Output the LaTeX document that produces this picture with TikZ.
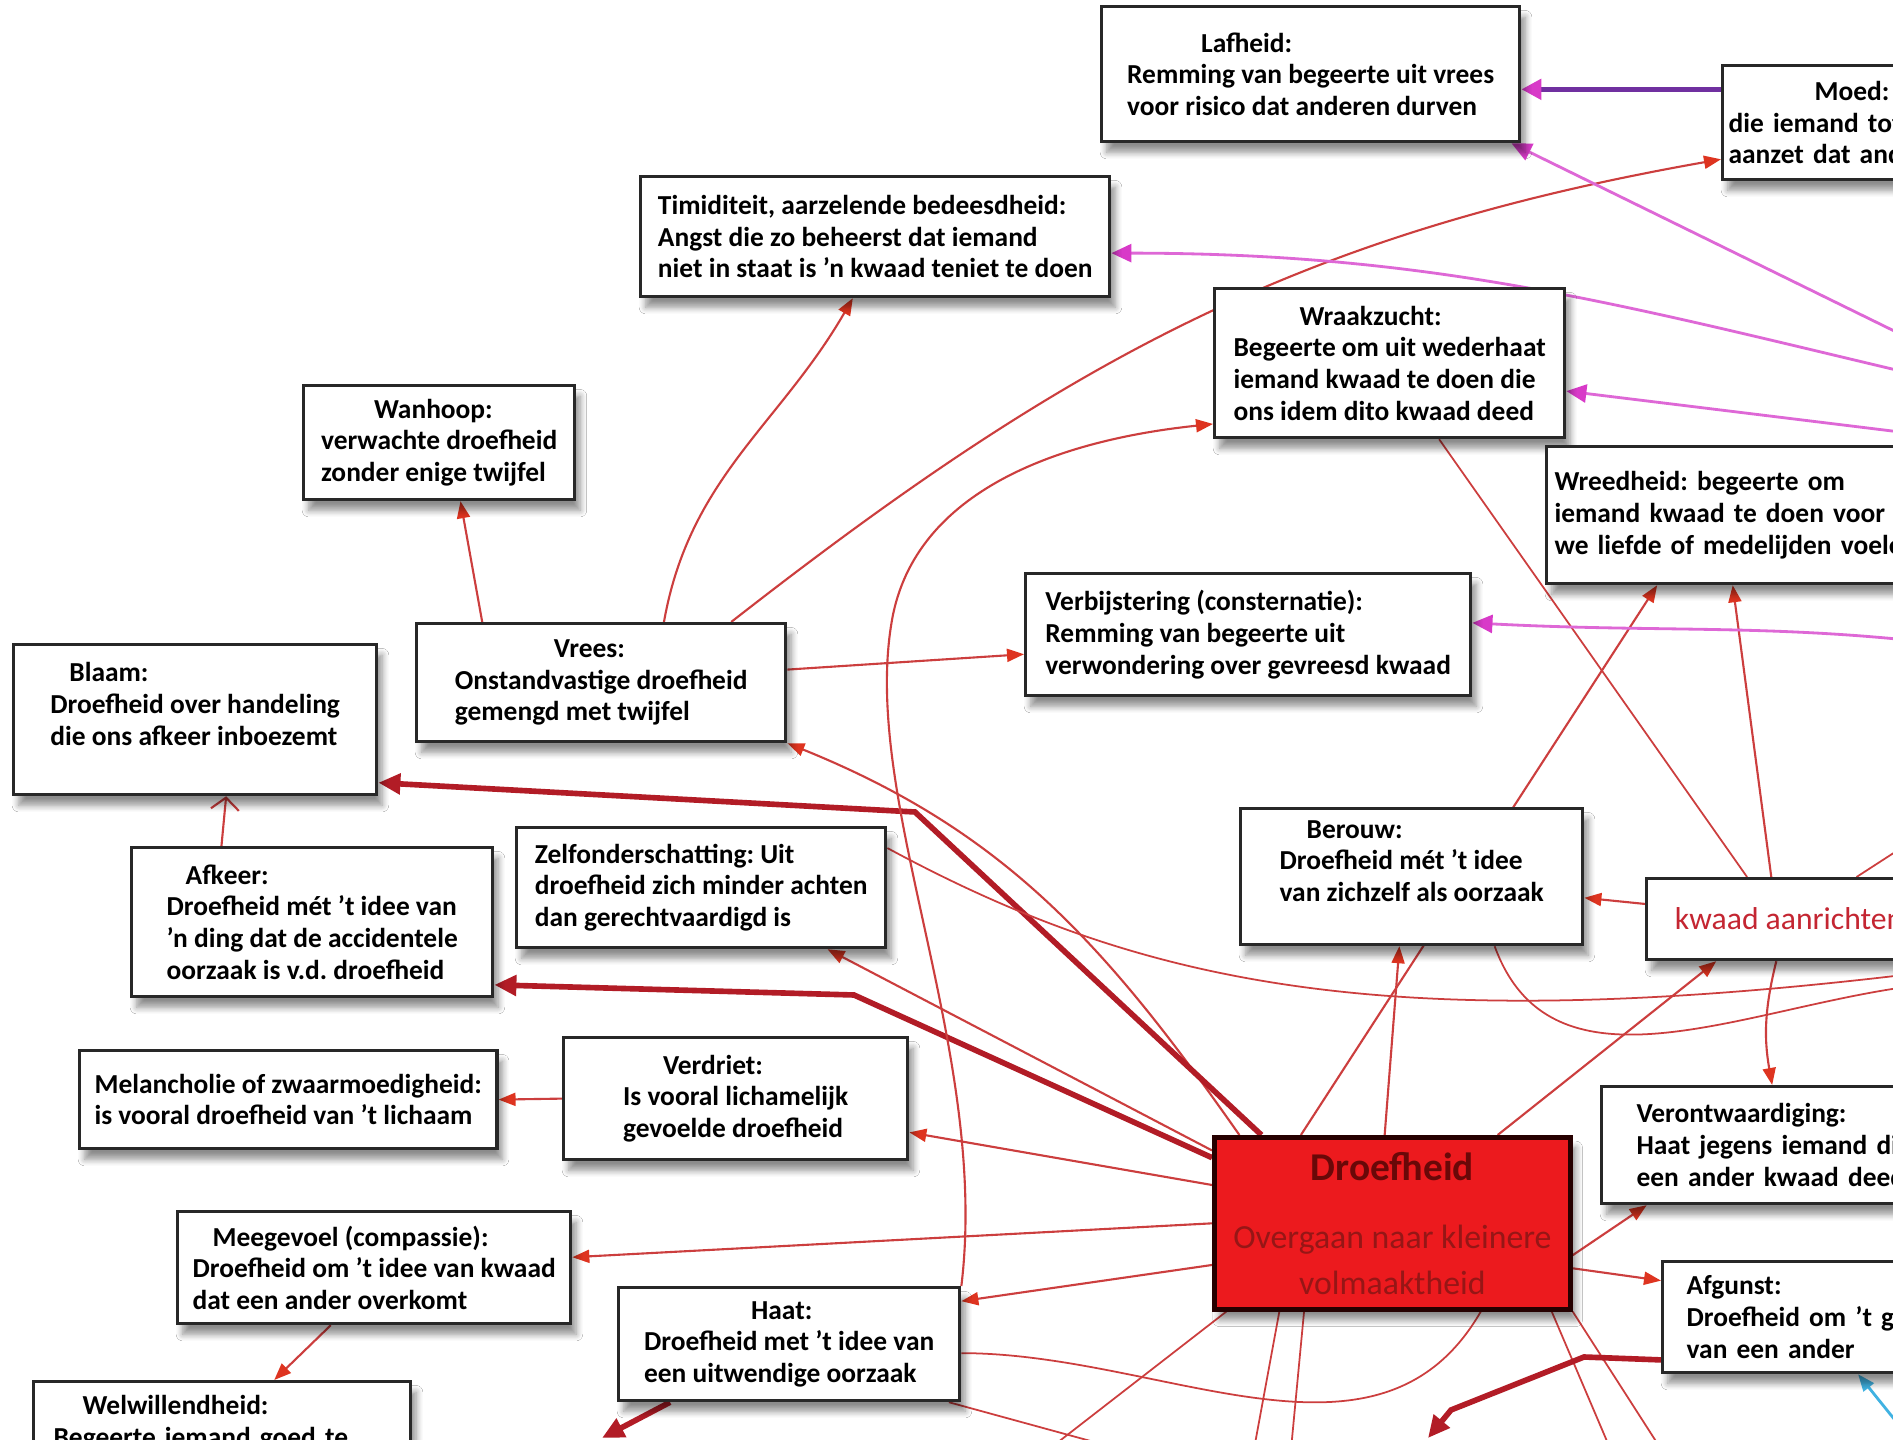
\documentclass[tikz,border=0pt]{standalone}
\usepackage{fontspec}
\setmainfont{Carlito}
\usetikzlibrary{arrows.meta,shadows.blur,backgrounds}
\definecolor{linkred}{RGB}{204,62,62}
\definecolor{tipred}{RGB}{222,52,32}
\definecolor{thickred}{RGB}{178,28,38}
\definecolor{droefred}{RGB}{236,26,30}
\definecolor{droefdark}{RGB}{105,8,8}
\definecolor{droefsub}{RGB}{150,22,22}
\definecolor{kwaadred}{RGB}{196,38,50}
\definecolor{magline}{RGB}{222,104,214}
\definecolor{magtip}{RGB}{216,58,200}
\definecolor{purpleline}{RGB}{112,48,160}
\definecolor{cyanline}{RGB}{64,178,226}
\definecolor{boxline}{RGB}{40,40,40}
\frenchspacing

\begin{document}
\begin{tikzpicture}[x=0.01cm, y=-0.01cm]
    \tikzstyle{emo} = [rectangle, draw=boxline, line width=0.9pt, fill=white, anchor=north west, align=left, font=\fontsize{7.8}{9}\selectfont\bfseries, inner xsep=0.15cm, inner ysep=0.05cm, blur shadow={shadow xshift=1.5pt, shadow yshift=-3pt, shadow blur steps=6, shadow opacity=45}]
    \tikzstyle{link} = [linkred, line width=0.6pt, -{Triangle[length=0.17cm, width=0.13cm, color=tipred]}]
    \tikzstyle{plain} = [linkred, line width=0.5pt]
    \tikzstyle{heavy} = [thickred, line width=1.6pt, -{Triangle[length=0.22cm, width=0.2cm]}]
    \tikzstyle{mag} = [magline, line width=0.8pt, -{Triangle[length=0.2cm, width=0.18cm, color=magtip]}]

    \useasboundingbox (0,0) rectangle (1893,1440);

    % Top row
    \node [emo, minimum width=4.18cm, minimum height=1.35cm] (lafheid) at (1100,5) {\hspace*{0.74cm}Lafheid:\\Remming van begeerte uit vrees\\voor risico dat anderen durven};
    \node [emo, text width=3.62cm, inner xsep=0.06cm, minimum height=1.14cm] (moed) at (1721,64) {\hspace*{0.86cm}Moed:\\die iemand tot\\aanzet dat anderen};
    \node [emo, minimum width=4.69cm, minimum height=1.2cm] (timid) at (639,175) {Timiditeit, aarzelende bedeesdheid:\\Angst die zo beheerst dat iemand\\niet in staat is 'n kwaad teniet te doen};
    \node [emo, minimum width=3.5cm, minimum height=1.49cm] (wraak) at (1213,287) {\hspace*{0.66cm}Wraakzucht:\\Begeerte om uit wederhaat\\iemand kwaad te doen die\\ons idem dito kwaad deed};
    \node [emo, minimum width=2.71cm, minimum height=1.14cm] (wanhoop) at (302,384) {\hspace*{0.53cm}Wanhoop:\\verwachte droefheid\\zonder enige twijfel};
    \node [emo, text width=3.91cm, inner xsep=0.08cm, minimum height=1.37cm] (wreed) at (1545,445) {Wreedheid: begeerte om\\iemand kwaad te doen voor wie\\we liefde of medelijden voelen};

    % Middle
    \node [emo, minimum width=4.45cm, minimum height=1.22cm] (verbij) at (1024,572) {Verbijstering (consternatie):\\Remming van begeerte uit\\verwondering over gevreesd kwaad};
    \node [emo, minimum width=3.69cm, minimum height=1.18cm] (vrees) at (415,622) {\hspace*{0.99cm}Vrees:\\Onstandvastige droefheid\\gemengd met twijfel};
    \node [emo, minimum width=3.63cm, minimum height=1.5cm] (blaam) at (12,643) {\hspace*{0.19cm}Blaam:\\Droefheid over handeling\\die ons afkeer inboezemt\\\mbox{}};
    \node [emo, minimum width=3.42cm, minimum height=1.36cm] (berouw) at (1239,807) {\hspace*{0.27cm}Berouw:\\Droefheid mét 't idee\\van zichzelf als oorzaak\\\mbox{}};
    \node [emo, minimum width=2.85cm, minimum height=0.81cm, font=\fontsize{9}{11}\selectfont, text=kwaadred] (kwaad) at (1645,877) {kwaad aanrichten};
    \node [emo, minimum width=3.61cm, minimum height=1.49cm] (afkeer) at (130,846) {\hspace*{0.19cm}Afkeer:\\Droefheid mét 't idee van\\'n ding dat de accidentele\\oorzaak is v.d. droefheid};
    \node [emo, minimum width=3.69cm, minimum height=1.2cm] (zelf) at (515,826) {Zelfonderschatting: Uit\\droefheid zich minder achten\\dan gerechtvaardigd is};

    % Lower rows
    \node [emo, minimum width=4.16cm, minimum height=0.98cm] (melan) at (78,1049) {Melancholie of zwaarmoedigheid:\\is vooral droefheid van 't lichaam};
    \node [emo, minimum width=3.44cm, minimum height=1.22cm] (verdriet) at (562,1036) {\hspace*{0.4cm}Verdriet:\\Is vooral lichamelijk\\gevoelde droefheid};
    \node [emo, minimum width=3.56cm, minimum height=1.72cm, fill=droefred, draw=black!85!red, line width=1.3pt, align=center, font=\fontsize{9.6}{13}\selectfont\mdseries, text=droefsub] (droef) at (1212,1135) {\fontsize{11.2}{13}\selectfont\bfseries\color{droefdark}Droefheid\\[6.3pt]Overgaan naar kleinere\\volmaaktheid};
    \node [emo, text width=2.9cm, inner xsep=0.35cm, minimum height=1.17cm] (veront) at (1600,1085) {Verontwaardiging:\\Haat jegens iemand die\\een ander kwaad deed};
    \node [emo, minimum width=3.85cm, minimum height=1.12cm] (meegevoel) at (176,1210) {\hspace*{0.2cm}Meegevoel (compassie):\\Droefheid om 't idee van kwaad\\dat een ander overkomt};
    \node [emo, minimum width=3.41cm, minimum height=1.13cm] (haat) at (617,1286) {\hspace*{1.07cm}Haat:\\Droefheid met 't idee van\\een uitwendige oorzaak};
    \node [emo, text width=2.92cm, inner xsep=0.24cm, minimum height=1.11cm] (afgunst) at (1661,1260) {Afgunst:\\Droefheid om 't geluk\\van een ander};
    \node [emo, text width=3.37cm, inner xsep=0.2cm, inner ysep=0.14cm] (welwil) at (32,1380) {\hspace*{0.29cm}Welwillendheid:\\Begeerte iemand goed te};

    \begin{scope}[on background layer]
    \fill [white] (0,0) rectangle (1893,1440);

    % Ends outside the picture
    \coordinate (liefdeA) at (1990,378);
    \coordinate (liefdeB) at (1990,392);
    \coordinate (liefdeC) at (1990,443);
    \coordinate (liefdeD) at (1990,650);
    \coordinate (afgunstend) at (1428,1438);
    \coordinate (haatend) at (602,1438);
    \coordinate (cyanend) at (1915,1445);

    % Droefheid
    \draw [link] (droef.150) to[out=125, in=-22] (vrees.south east);
    \draw [link] (droef.168) -- (verdriet.-11);
    \draw [link] (droef.west) -- (meegevoel.3);
    \draw [link] (droef.-167) -- (haat.14);
    \draw [link] (droef.-10) -- (veront.204);
    \draw [link] (droef.-14) -- (afgunst.168);
    \draw [link] (droef.95) -- (berouw.-100);
    \draw [link] (droef.40) -- (kwaad.210);
    \draw [link] (droef.158) -- (zelf.-26);
    \draw [link] (droef.136) -- (wreed.-143);
    \draw [heavy] (droef.146) -- (915,812) -- (blaam.-19);
    \draw [heavy] (droef.160) -- (854,995) -- (afkeer.-19);
    \draw [plain] (droef.-152) -- (1035,1460);
    \draw [plain] (droef.-142) -- (1252,1460);
    \draw [plain] (droef.-135) -- (1290,1460);
    \draw [plain] (droef.-29) -- (1615,1460);
    \draw [plain] (droef.south east) -- (1668,1460);

    % Vrees
    \draw [link] (vrees.153) -- (wanhoop.-70);
    \draw [link] (vrees.44) to[out=80, in=-120] (timid.-110);
    \draw [link] (vrees.4) -- (verbij.185);
    \draw [link] (vrees.25) to[out=38, in=190] (moed.191);

    % kwaad aanrichten
    \draw [link] (kwaad.113) -- (wreed.-104);
    \draw [link] (kwaad.174) -- (berouw.-7);
    \draw [link] (kwaad.-107) to[bend right=12] (veront.99);
    \draw [plain] (kwaad.135) -- (wraak.-57);
    \draw [plain] (kwaad.32) -- (1960,810);
    \draw [plain] (berouw.-40) to[out=-70, in=182] (1960,982);
    \draw [plain] (zelf.12) .. controls (1150,990) and (1400,1040) .. (1960,968);

    % Others
    \draw [link, -{Straight Barb[length=0.12cm, width=0.28cm]}] (afkeer.140) -- (blaam.-68);
    \draw [link] (verdriet.west) -- (melan.east);
    \draw [link] (meegevoel.-127) -- ([xshift=0.52cm]welwil.north);
    \draw [link] (haat.north east) .. controls (990,1050) and (860,800) .. (892,620) .. controls (915,490) and (1060,440) .. (wraak.199);
    \draw [plain] (haat.-3) to[out=0, in=-120] (droef.-45);
    \draw [plain] (haat.-20) -- (1160,1460);
    \draw [heavy] (afgunst.194) -- (1584,1357) -- (1451,1410) -- (afgunstend);
    \draw [heavy] (haat.-154) -- (haatend);

    % Magenta
    \draw [mag] (liefdeA) -- (lafheid.-19);
    \draw [mag] (liefdeB) to[out=167, in=0] (timid.-4);
    \draw [mag] (liefdeC) -- (wraak.-9);
    \draw [mag] (liefdeD) to[out=172, in=-3] (verbij.3);
    \draw [purpleline, line width=1.6pt, -{Triangle[length=0.2cm, width=0.2cm, color=magtip]}] (moed.170) -- (moed.170 -| lafheid.east);
    \draw [cyanline, line width=0.8pt, -{Triangle[length=0.17cm, width=0.13cm]}] (cyanend) -- (afgunst.-66);
    \end{scope}
\end{tikzpicture}
\end{document}
